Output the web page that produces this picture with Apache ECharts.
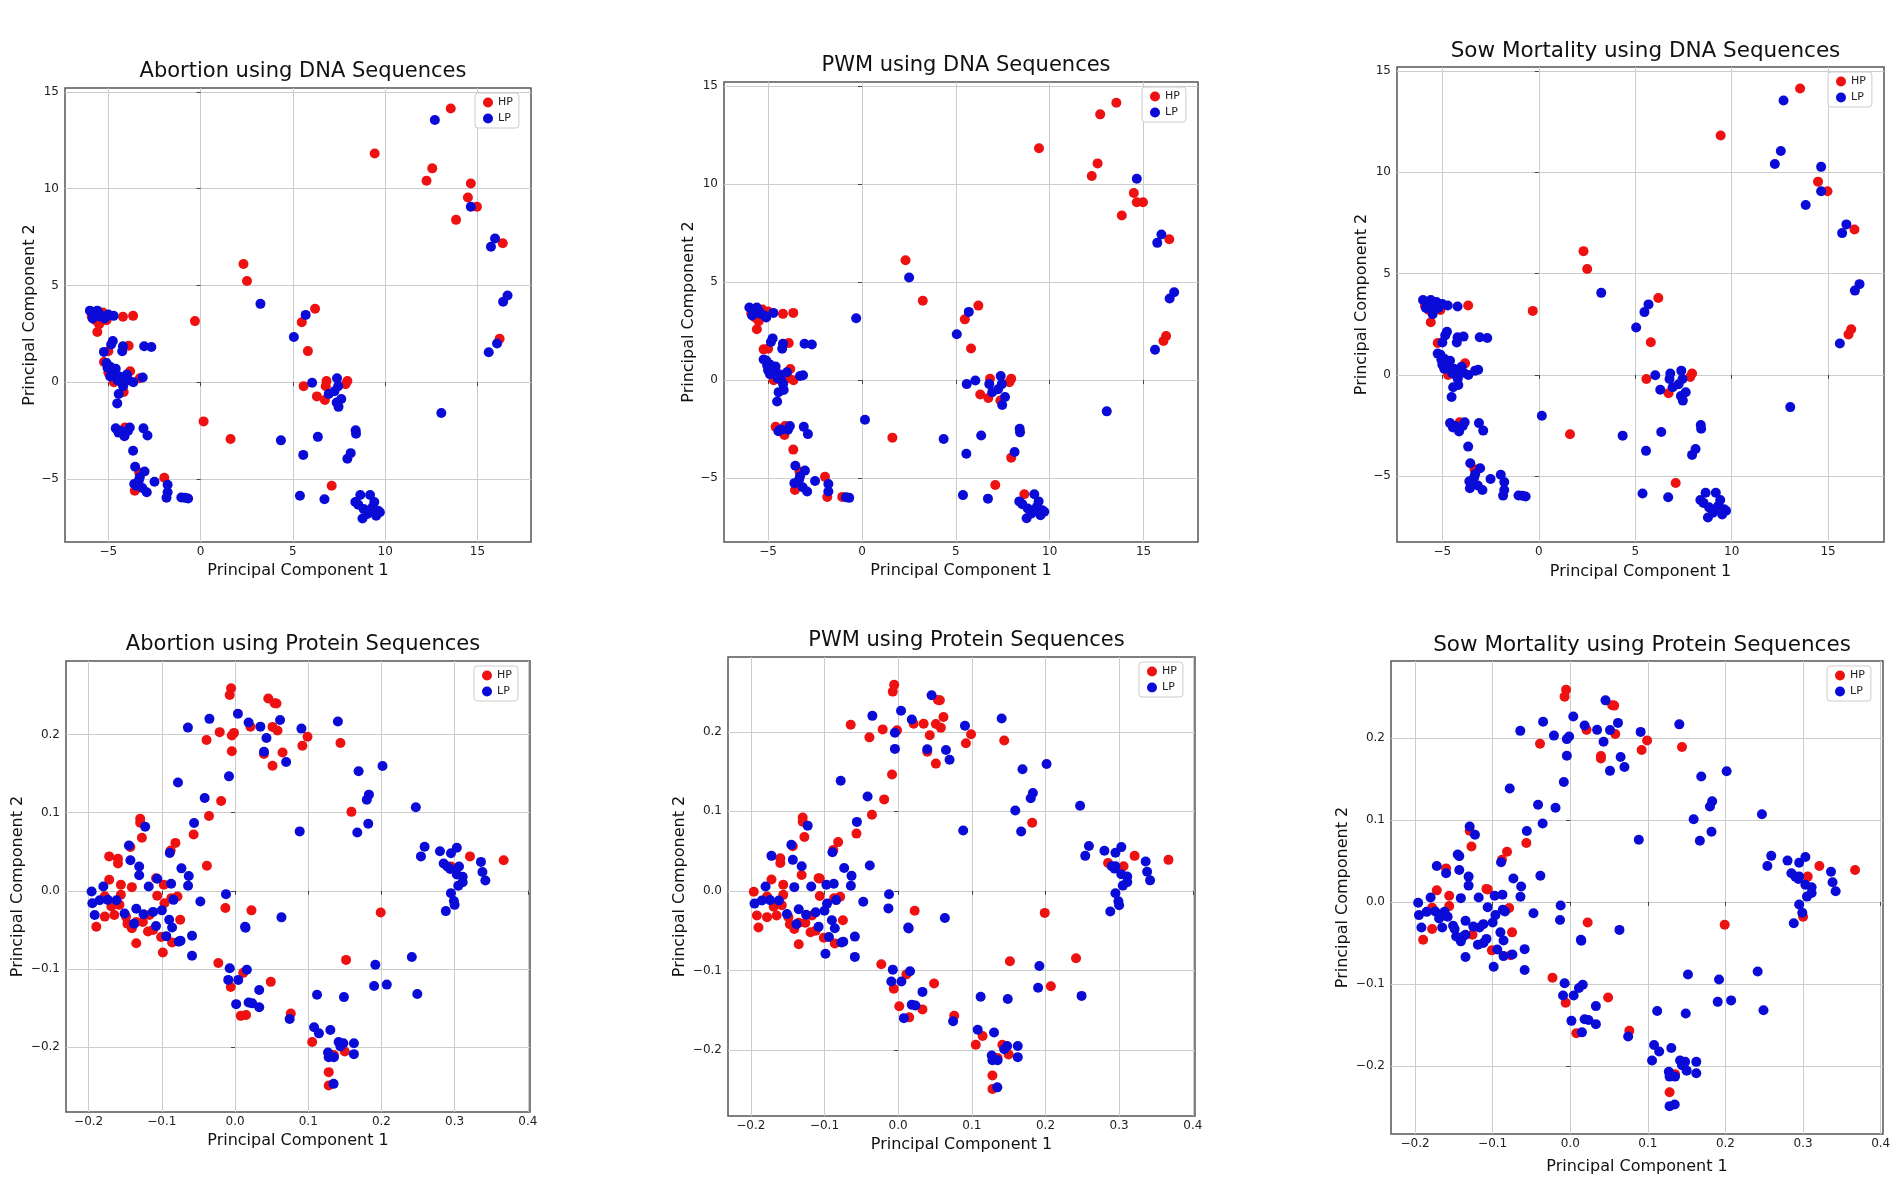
<!DOCTYPE html>
<html>
<head>
<meta charset="utf-8">
<script src="https://cdn.jsdelivr.net/npm/echarts@6/dist/echarts.min.js"></script>
<style>
  html, body { margin: 0; padding: 0; background: #fff; }
  #chart { width: 1902px; height: 1197px; }
</style>
</head>
<body>
<div id="chart"></div>
<script>
// PCA scatter plots, HP vs LP, three traits x two sequence types

// DNA panels share the same PCA positions, only the HP/LP split differs
const dnaPoints = [
  [13.55,14.14],[12.69,13.55],[9.43,11.82],[12.55,11.05],[12.24,10.41],[14.64,10.27],[14.48,9.54],[14.64,9.07],
  [14.97,9.07],[13.84,8.39],[15.95,7.43],[15.73,7.0],[16.37,7.18],[16.63,4.48],[16.39,4.16],[16.2,2.25],
  [16.06,2.0],[15.61,1.55],[13.04,-1.59],[2.32,6.11],[2.51,5.23],[3.24,4.05],[-0.31,3.16],[0.16,-2.02],
  [1.62,-2.93],[4.35,-3.0],[6.2,3.8],[5.69,3.48],[5.48,3.1],[5.05,2.34],[5.81,1.61],[5.58,-0.2],
  [6.04,-0.02],[6.3,-0.73],[6.78,-0.2],[6.73,-0.91],[6.82,0.07],[7.39,0.21],[6.94,-0.61],[7.25,-0.46],
  [7.37,-1.04],[7.47,-1.27],[7.62,-0.86],[7.45,-0.2],[7.95,0.07],[7.85,-0.1],[6.35,-2.82],[5.56,-3.75],
  [8.4,-2.48],[8.42,-2.66],[8.13,-3.66],[7.95,-3.95],[7.1,-5.34],[5.38,-5.86],[6.71,-6.04],[8.65,-5.82],
  [9.18,-5.82],[8.54,-6.32],[9.32,-6.45],[8.77,-7.04],[9.61,-6.63],[9.03,-6.8],[9.71,-6.71],[8.83,-6.54],
  [9.41,-6.18],[9.12,-6.63],[8.38,-6.18],[9.51,-6.89],[-6.0,3.7],[-5.9,3.4],[-5.8,3.6],[-5.7,3.2],
  [-5.6,3.7],[-5.6,2.6],[-5.5,3.0],[-5.45,3.4],[-5.3,3.6],[-5.2,3.3],[-5.0,3.5],[-5.1,3.2],
  [-4.72,3.43],[-4.21,3.38],[-3.66,3.43],[-4.76,2.13],[-4.85,1.95],[-5.24,1.57],[-5.0,1.6],[-4.21,1.86],
  [-4.25,1.6],[-3.9,1.89],[-3.06,1.86],[-2.67,1.82],[-5.24,1.05],[-5.1,1.0],[-4.9,0.8],[-4.8,0.5],
  [-4.6,0.3],[-4.5,0.1],[-4.7,0.0],[-4.3,0.0],[-4.0,0.4],[-3.9,0.1],[-4.2,-0.2],[-3.82,0.57],
  [-5.0,0.5],[-4.6,0.7],[-3.3,0.21],[-3.14,0.25],[-4.17,-0.5],[-4.44,-0.61],[-4.52,-1.09],[-3.65,0.0],
  [-4.6,-2.38],[-4.33,-2.52],[-4.1,-2.34],[-3.94,-2.52],[-4.13,-2.79],[-3.84,-2.34],[-4.45,-2.6],[-3.1,-2.38],
  [-2.88,-2.75],[-3.66,-3.54],[-3.55,-4.36],[-3.33,-4.66],[-3.04,-4.61],[-3.35,-5.07],[-3.49,-5.34],[-3.57,-5.6],
  [-3.16,-5.46],[-2.92,-5.68],[-2.5,-5.14],[-1.97,-4.93],[-1.79,-5.29],[-1.79,-5.68],[-1.85,-5.96],[-1.05,-5.95],
  [-0.68,-6.0],[-0.85,-5.97],[-3.3,-4.9],[-3.6,-5.25],[-5.85,3.3],[-5.5,3.55],[-4.9,0.3],[-4.4,0.3],
  [-5.05,0.75]
];
// group per point: [abortion, pwm, sow mortality], H = HP, L = LP
const dnaGroups = [
  'HHH','LHL','HHH','HHL','HHL','HLL','HHH','LHL',
  'HHH','HHL','LLL','LLL','HHH','LLL','LLL','HHH',
  'LHH','LLL','LLL','HHH','HLH','LHL','HLH','HLL',
  'HHH','LLL','HHH','LLL','HHL','LLL','HHH','HLH',
  'LLL','HHL','HLL','HHH','HHL','LLL','LLL','LLL',
  'LHL','LLL','LLL','LLL','HHH','HHH','LLL','LLL',
  'LLL','LLL','LLL','LHL','HHH','LLL','LLL','LHL',
  'LLL','LLL','LLL','LLL','LLL','LLL','LLL','LLL',
  'LLL','LLL','LLL','LLL','LLL','HHH','LLL','HHH',
  'LLL','HHH','HHL','LLL','HHL','LLL','LHL','HLH',
  'LLL','HHL','HHH','LLL','LLL','LHH','HHL','LLL',
  'LLL','HHL','LLL','LLL','HLL','LLL','LLL','LHL',
  'LLL','LLL','HHH','LLL','LLL','LHL','LLL','HHH',
  'HLL','LLL','HLL','LLL','HLL','LLL','LLL','LHL',
  'LHL','LLL','HHH','LLL','LHL','LLL','LLL','LLL',
  'LLL','LHL','LLL','HHH','LLL','LLL','LHL','HHL',
  'LLL','LLL','LLL','HHL','LLL','LLL','LHL','LHL',
  'LLL','LLL','LLL','LLL','LLL','LLL','LLL','LLL',
  'LLL'
];

const proteinPoints = [
  [-0.0054,0.259],[-0.0073,0.2505],[0.0454,0.246],[0.0541,0.240],[0.0566,0.2396],[-0.021,0.203],[-0.0015,0.202],[-0.0044,0.1987],
  [-0.039,0.193],[-0.0044,0.1785],[0.021,0.21],[0.0512,0.2097],[0.058,0.205],[0.0395,0.175],[0.0512,0.16],[0.0649,0.177],
  [0.092,0.1855],[0.099,0.197],[0.144,0.189],[-0.019,0.115],[-0.0356,0.0958],[-0.0566,0.072],[-0.0385,0.032],[0.159,0.101],
  [0.199,-0.0277],[0.321,0.044],[0.367,0.039],[0.295,0.031],[0.0224,-0.025],[-0.0132,-0.022],[-0.0229,-0.0923],[0.0112,-0.105],
  [0.0488,-0.1165],[-0.0059,-0.123],[0.0078,-0.160],[0.015,-0.159],[0.0761,-0.157],[0.1517,-0.0884],[0.1054,-0.1934],[0.150,-0.2057],
  [0.128,-0.232],[0.128,-0.249],[0.135,-0.21],[0.0039,0.2264],[-0.035,0.22],[-0.0644,0.2088],[0.0185,0.2154],[0.0346,0.21],
  [0.0615,0.2185],[0.0429,0.1956],[0.0395,0.178],[0.0698,0.1648],[0.0907,0.2075],[0.1405,0.2167],[-0.0083,0.1464],[-0.078,0.1385],
  [-0.0415,0.1187],[0.1688,0.153],[0.2015,0.1596],[0.1829,0.123],[0.18,0.1165],[0.182,0.0857],[0.167,0.0747],[0.0883,0.076],
  [0.247,0.107],[0.259,0.0563],[0.254,0.044],[0.28,0.0505],[0.303,0.055],[0.295,0.048],[0.285,0.035],[0.29,0.031],
  [0.294,0.028],[0.306,0.031],[0.303,0.021],[0.311,0.018],[0.305,0.0066],[0.311,0.011],[0.295,-0.003],[0.299,-0.013],
  [0.3,-0.018],[0.288,-0.026],[0.336,0.037],[0.338,0.024],[0.342,0.0132],[0.0634,-0.034],[0.0137,-0.046],[-0.0073,-0.099],
  [-0.0093,-0.114],[0.0044,-0.114],[0.0161,-0.101],[0.0015,-0.145],[0.0185,-0.143],[0.0234,-0.144],[0.033,-0.127],[0.033,-0.149],
  [0.0746,-0.164],[0.108,-0.1745],[0.1146,-0.1824],[0.1302,-0.178],[0.112,-0.133],[0.1488,-0.136],[0.1917,-0.0945],[0.190,-0.1218],
  [0.2073,-0.12],[0.2415,-0.0848],[0.249,-0.132],[0.1415,-0.1934],[0.148,-0.195],[0.144,-0.199],[0.1624,-0.195],[0.1624,-0.209],
  [0.127,-0.207],[0.128,-0.213],[0.135,-0.213],[0.1346,-0.247],[-0.056,0.0867],[-0.1296,0.0922],[-0.1296,0.087],[-0.1228,0.082],
  [-0.1273,0.0678],[-0.0815,0.0613],[-0.0892,0.0485],[-0.088,0.0515],[-0.145,0.058],[-0.143,0.056],[-0.172,0.044],[-0.16,0.041],
  [-0.16,0.035],[-0.143,0.039],[-0.131,0.031],[-0.131,0.020],[-0.0733,0.0287],[-0.0633,0.0189],[-0.0642,0.0064],[-0.1064,0.0154],
  [-0.172,0.0142],[-0.156,0.0077],[-0.118,0.0056],[-0.141,0.0047],[-0.0874,0.009],[-0.0974,0.0077],[-0.1064,-0.0064],[-0.0787,-0.0073],
  [-0.0842,-0.0116],[-0.0474,-0.0137],[-0.0124,-0.0043],[0.0143,-0.0472],[-0.0588,-0.0575],[-0.0588,-0.083],[-0.135,-0.067],[-0.0987,-0.079],
  [-0.1896,-0.046],[-0.1918,-0.031],[-0.196,-0.001],[-0.195,-0.016],[-0.18,0.0056],[-0.174,-0.0116],[-0.151,-0.029],[-0.135,-0.023],
  [-0.138,-0.042],[-0.112,-0.027],[-0.108,-0.045],[-0.09,-0.037],[-0.086,-0.047],[-0.094,-0.058],[-0.0745,-0.064],[-0.178,-0.007],
  [-0.169,-0.02],[-0.158,-0.018],[-0.156,-0.005],[-0.178,-0.033],[-0.165,-0.031],[-0.149,-0.033],[-0.135,-0.04],[-0.147,-0.042],
  [-0.141,-0.048],[-0.126,-0.04],[-0.117,-0.031],[-0.119,-0.052],[-0.112,-0.05],[-0.0965,-0.016],[-0.087,-0.0094],[-0.075,-0.037],
  [-0.086,-0.066],[-0.101,-0.059],[-0.185,-0.012],[-0.162,-0.012],[-0.125,-0.03],[-0.1,-0.025],[-0.077,-0.065],[-0.108,0.016]
];
const proteinGroups = [
  'HHH','HHH','HLL','HHH','HHH','HHL','HHL','HLL',
  'HHH','HLL','HHH','HHL','HHH','HHH','HHL','HLL',
  'HHH','HHH','HHH','HHL','HHL','HHH','HLL','HLL',
  'HHH','HHH','HHH','HLL','HHH','HLL','HHH','HHL',
  'HHH','HHH','HLH','HHL','HHH','HHL','HHL','HHL',
  'HHH','HHL','HHH','LLL','LLL','LHL','LLL','LHL',
  'LHL','LHL','LLH','LLL','LLL','LLL','LHL','LLL',
  'LLL','LLL','LLL','LLL','LLL','LHL','LLL','LLL',
  'LLL','LLL','LLL','LLL','LLL','LLL','LHL','LLL',
  'LLL','LHH','LLL','LLL','LLL','LLL','LLL','LLL',
  'LLH','LLL','LLL','LLL','LLL','LLL','LLL','LLL',
  'LLL','LLL','LLL','LHL','LLL','LLL','LLL','LHL',
  'LLL','LLL','LHL','LLL','LLL','LLL','LLL','LLL',
  'LHL','LHL','LLL','LHL','LLL','LLL','LLL','LLL',
  'LLL','LLL','LLL','LLL','LLL','HHL','HHH','LLL',
  'HHH','HHH','LLL','HHH','LLL','HHL','HLL','HHH',
  'HHL','LLL','LLL','LHL','LLL','LLL','LLL','LHH',
  'HHH','HHH','LLL','HLL','LLL','HLL','HHL','HHH',
  'LLL','LLL','LLL','LLL','LLL','LLL','HHL','HLL',
  'HHH','LHL','LHL','LLL','LLL','LLL','LLL','LLL',
  'LLL','LLL','LLL','LLL','LLL','LLL','LLL','HHH',
  'HHL','HHL','HHH','HHH','HHL','HHL','HHL','HHL',
  'HHL','HHH','HHL','HHL','HHL','HLL','HHL','HHH',
  'HHL','HHH','LLL','LLL','LLL','LLL','LLH','HHH'
];

const traits = ['Abortion', 'PWM', 'Sow Mortality'];
const groupNames = ['HP', 'LP'];

const dnaTicks = [-5, 0, 5, 10, 15];
const proteinTicksX = [-0.2, -0.1, 0.0, 0.1, 0.2, 0.3, 0.4];
const proteinTicksY = [-0.2, -0.1, 0.0, 0.1, 0.2];

const dnaRange = { x: [-7.35, 17.9], y: [-8.25, 15.2] };
const proteinRange = { x: [-0.231, 0.403], y: [-0.283, 0.294] };

// plot boxes [left, top, width, height] in px
const boxes = [
  [65, 88, 466, 454], [724, 82, 474, 460], [1397, 67, 487, 475],
  [66, 661, 464, 451], [728, 657, 467, 459], [1391, 661, 492, 473]
];
// x-axis title distance per panel (the sow mortality protein plot sits a bit lower)
const xNameGaps = [21, 21, 22, 21, 21, 25];

const FONT = 'DejaVu Sans';
const RED = '#ee1111';
const BLUE = '#0b0bd8';

function fmt(v, dec) {
  return v.toFixed(dec).replace('-', '\u2212');
}

function makeAxis(i, range, ticks, dec, name, gap, margin) {
  return {
    type: 'value', gridIndex: i, min: range[0], max: range[1],
    name: name, nameLocation: 'middle', nameGap: gap,
    nameTextStyle: { fontFamily: FONT, fontSize: 16, color: '#111' },
    axisLine: { show: false },
    axisTick: { show: true, customValues: ticks, length: 4, lineStyle: { color: '#444' } },
    axisLabel: { customValues: ticks, formatter: v => fmt(v, dec), fontFamily: FONT, fontSize: 12, color: '#222', margin: margin },
    splitLine: { show: true, lineStyle: { color: '#cccccc', width: 1 } }
  };
}

const grids = [], xAxes = [], yAxes = [], titles = [], legends = [], series = [];

for (let i = 0; i < 6; i++) {
  const isDna = i < 3;
  const t = i % 3;
  const [l, tp, w, h] = boxes[i];
  grids.push({ left: l, top: tp, width: w, height: h, show: true, borderColor: '#555', borderWidth: 1.5, backgroundColor: '#fff' });
  if (isDna) {
    xAxes.push(makeAxis(i, dnaRange.x, dnaTicks, 0, 'Principal Component 1', xNameGaps[i], 4));
    yAxes.push(makeAxis(i, dnaRange.y, dnaTicks, 0, 'Principal Component 2', 27, 6));
  } else {
    xAxes.push(makeAxis(i, proteinRange.x, proteinTicksX, 1, 'Principal Component 1', xNameGaps[i], 4));
    yAxes.push(makeAxis(i, proteinRange.y, proteinTicksY, 1, 'Principal Component 2', 40, 6));
  }
  titles.push({
    text: traits[t] + ' using ' + (isDna ? 'DNA' : 'Protein') + ' Sequences',
    left: l + w / 2, top: tp - 32, textAlign: 'center',
    textStyle: { fontFamily: FONT, fontSize: t === 2 ? 21.5 : 21, fontWeight: 'normal', color: '#111' }
  });
  legends.push({
    data: groupNames, orient: 'vertical', left: l + w - 56, top: tp + 5,
    icon: 'circle', itemWidth: 10, itemHeight: 10, itemGap: 5,
    textStyle: { fontFamily: FONT, fontSize: 11, color: '#222' },
    borderColor: '#cccccc', borderWidth: 1, borderRadius: 3, padding: [4, 6, 4, 8],
    backgroundColor: '#fff', selectedMode: false
  });
  const pts = isDna ? dnaPoints : proteinPoints;
  const grp = isDna ? dnaGroups : proteinGroups;
  const hp = pts.filter((p, k) => grp[k][t] === 'H');
  const lp = pts.filter((p, k) => grp[k][t] !== 'H');
  series.push({ type: 'scatter', name: 'HP', xAxisIndex: i, yAxisIndex: i, data: hp, symbolSize: 10, itemStyle: { color: RED, opacity: 1 } });
  series.push({ type: 'scatter', name: 'LP', xAxisIndex: i, yAxisIndex: i, data: lp, symbolSize: 10, itemStyle: { color: BLUE, opacity: 1 } });
}

const chart = echarts.init(document.getElementById('chart'));
chart.setOption({
  animation: false,
  backgroundColor: '#fff',
  title: titles,
  legend: legends,
  grid: grids,
  xAxis: xAxes,
  yAxis: yAxes,
  series: series
});
</script>
</body>
</html>
